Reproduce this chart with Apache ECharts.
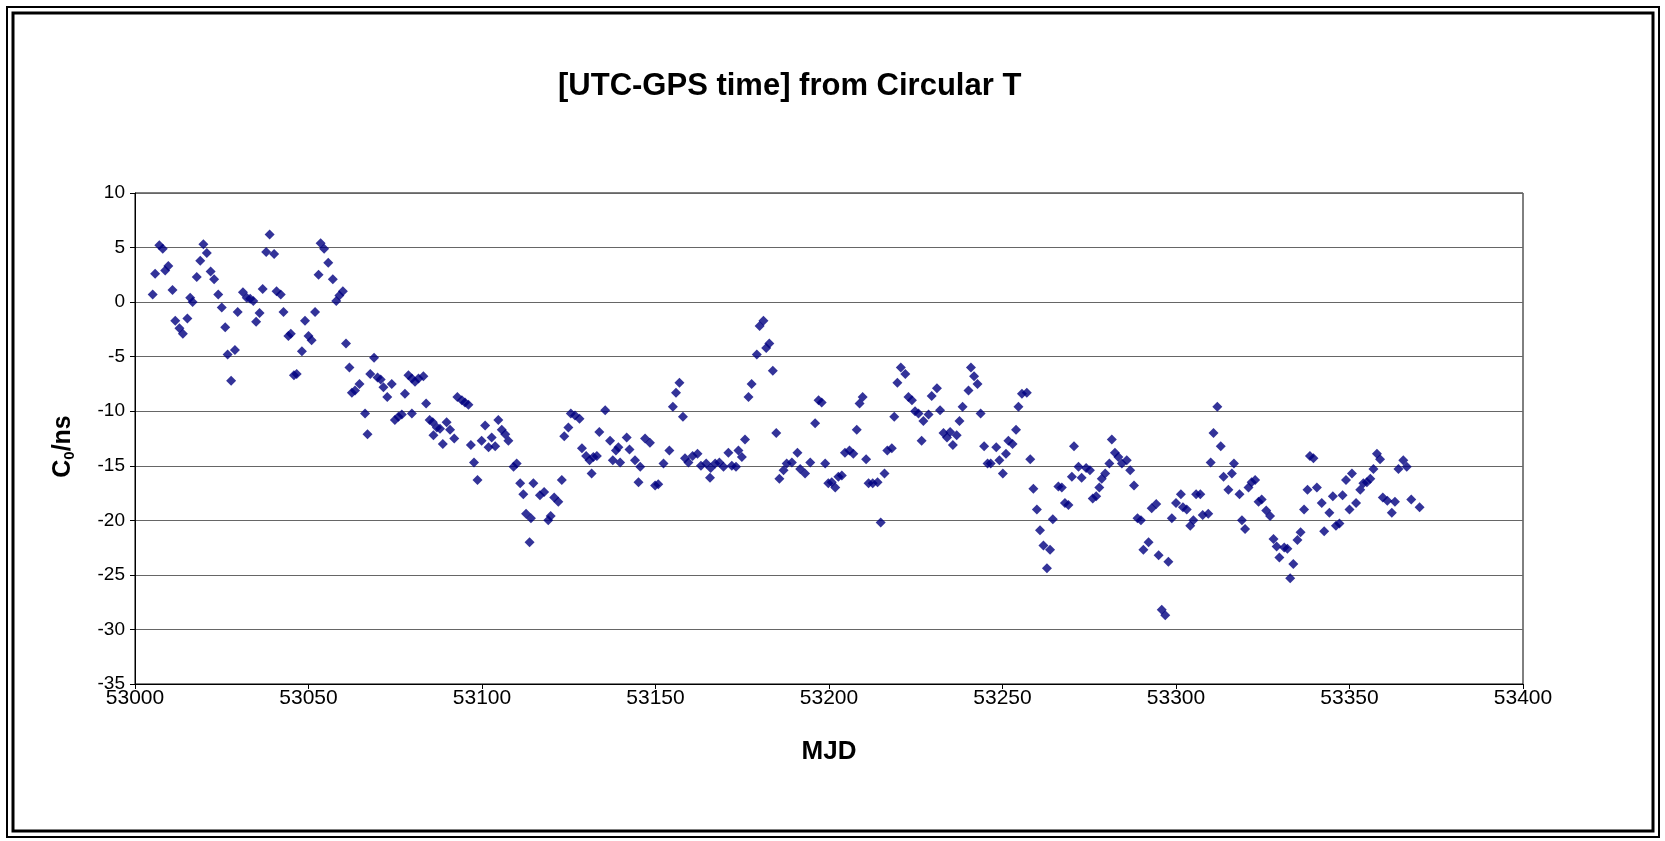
<!DOCTYPE html>
<html>
<head>
<meta charset="utf-8">
<script src="https://cdn.jsdelivr.net/npm/echarts@6/dist/echarts.min.js"></script>
<style>
  html, body { margin: 0; padding: 0; background: #fff; }
  #chart { width: 1665px; height: 841px; }
</style>
</head>
<body>
<div id="chart"></div>
<script>
  // [MJD, C0 (ns)]
  var obs = [
    [53005.1,0.7],[53005.8,2.6],[53007.0,5.2],[53008.0,4.9],[53008.7,2.9],[53009.6,3.3],[53010.8,1.1],[53011.6,-1.7],[53012.8,-2.4],[53013.8,-2.9],
    [53015.1,-1.5],[53015.9,0.4],[53016.6,0.0],[53017.8,2.3],[53018.8,3.8],[53019.7,5.3],[53020.7,4.5],[53021.8,2.8],[53022.8,2.1],[53024.0,0.7],
    [53025.0,-0.5],[53026.0,-2.3],[53026.7,-4.8],[53027.7,-7.2],[53028.8,-4.4],[53029.6,-0.9],[53031.1,0.9],[53032.2,0.4],[53033.2,0.3],[53034.1,0.1],
    [53034.9,-1.8],[53035.9,-1.0],[53036.8,1.2],[53037.8,4.6],[53038.8,6.2],[53040.1,4.4],[53040.8,1.0],[53042.0,0.7],[53042.8,-0.9],[53044.2,-3.1],
    [53044.9,-2.9],[53045.8,-6.7],[53046.6,-6.6],[53048.1,-4.5],[53049.0,-1.7],[53050.0,-3.1],[53050.9,-3.5],[53051.9,-0.9],[53052.9,2.5],[53053.5,5.4],
    [53054.5,4.9],[53055.7,3.6],[53057.0,2.1],[53058.0,0.1],[53058.9,0.6],[53059.9,1.0],[53060.8,-3.8],[53061.8,-6.0],[53062.5,-8.3],[53063.4,-8.1],
    [53064.7,-7.5],[53066.3,-10.2],[53067.0,-12.1],[53067.8,-6.6],[53068.9,-5.1],[53069.9,-6.9],[53070.8,-7.1],[53071.6,-7.8],[53072.7,-8.7],[53074.0,-7.5],
    [53074.9,-10.8],[53075.9,-10.5],[53076.9,-10.3],[53077.8,-8.4],[53078.8,-6.7],[53079.8,-7.0],[53079.8,-10.2],[53080.7,-7.3],[53081.7,-7.0],[53083.1,-6.8],
    [53083.9,-9.3],[53084.9,-10.8],[53085.8,-11.0],[53086.0,-12.2],[53087.0,-11.5],[53087.9,-11.6],[53088.7,-13.0],[53089.8,-11.0],[53090.8,-11.7],[53092.0,-12.5],
    [53092.9,-8.7],[53094.2,-9.0],[53095.1,-9.2],[53096.1,-9.4],[53096.8,-13.1],[53097.7,-14.7],[53098.7,-16.3],[53099.9,-12.7],[53100.9,-11.3],[53101.9,-13.3],
    [53102.8,-12.4],[53103.8,-13.2],[53104.7,-10.8],[53105.7,-11.7],[53106.7,-12.1],[53107.6,-12.7],[53109.1,-15.1],[53110.0,-14.8],[53111.0,-16.6],[53111.9,-17.6],
    [53112.7,-19.4],[53113.7,-22.0],[53114.1,-19.8],[53114.8,-16.6],[53116.7,-17.7],[53117.9,-17.4],[53119.1,-20.0],[53119.8,-19.6],[53120.8,-17.9],[53122.0,-18.3],
    [53123.0,-16.3],[53123.7,-12.3],[53124.9,-11.5],[53125.6,-10.2],[53126.8,-10.4],[53128.1,-10.7],[53128.8,-13.4],[53130.0,-14.1],[53131.0,-14.5],[53131.6,-15.7],
    [53132.1,-14.2],[53133.1,-14.1],[53133.8,-11.9],[53135.5,-9.9],[53136.9,-12.7],[53137.7,-14.5],[53138.6,-13.6],[53139.3,-13.3],[53139.8,-14.7],[53141.7,-12.4],
    [53142.5,-13.5],[53144.1,-14.5],[53145.1,-16.5],[53145.6,-15.1],[53147.0,-12.5],[53148.4,-12.9],[53149.9,-16.8],[53150.8,-16.7],[53152.3,-14.8],[53154.0,-13.6],
    [53155.0,-9.6],[53155.9,-8.3],[53156.9,-7.4],[53157.9,-10.5],[53158.5,-14.3],[53159.5,-14.7],[53160.7,-14.1],[53162.1,-13.9],[53163.1,-15.0],[53164.6,-14.8],
    [53165.7,-16.1],[53165.9,-15.2],[53167.2,-14.8],[53168.4,-14.7],[53169.6,-15.1],[53171.0,-13.8],[53172.0,-15.0],[53173.2,-15.1],[53173.9,-13.6],[53174.9,-14.2],
    [53175.8,-12.6],[53176.8,-8.7],[53177.7,-7.5],[53179.2,-4.8],[53180.0,-2.2],[53181.1,-1.7],[53181.9,-4.2],[53182.8,-3.8],[53183.8,-6.3],[53184.8,-12.0],
    [53185.7,-16.2],[53186.9,-15.4],[53187.8,-14.8],[53189.3,-14.7],[53190.9,-13.8],[53191.7,-15.3],[53193.1,-15.7],[53194.6,-14.7],[53196.0,-11.1],[53197.0,-9.0],
    [53197.9,-9.2],[53198.9,-14.8],[53199.8,-16.6],[53200.8,-16.5],[53201.8,-17.0],[53202.7,-16.0],[53203.7,-15.9],[53204.6,-13.8],[53205.9,-13.6],[53207.0,-13.9],
    [53208.0,-11.7],[53208.8,-9.3],[53209.7,-8.7],[53210.7,-14.4],[53211.4,-16.6],[53212.6,-16.6],[53214.0,-16.5],[53214.9,-20.2],[53216.0,-15.7],[53216.8,-13.6],
    [53218.1,-13.4],[53218.8,-10.5],[53219.7,-7.4],[53220.7,-6.0],[53222.0,-6.6],[53222.9,-8.7],[53223.9,-9.0],[53224.8,-10.0],[53225.8,-10.2],[53226.7,-12.7],
    [53227.2,-10.9],[53228.7,-10.3],[53229.6,-8.6],[53231.1,-7.9],[53232.0,-9.9],[53233.0,-12.0],[53234.0,-12.4],[53234.9,-11.9],[53235.7,-13.1],[53236.8,-12.2],
    [53237.6,-10.9],[53238.5,-9.6],[53240.2,-8.1],[53240.9,-6.0],[53241.8,-6.8],[53242.8,-7.5],[53243.7,-10.2],[53244.7,-13.2],[53245.7,-14.8],[53246.6,-14.8],
    [53248.2,-13.3],[53249.1,-14.5],[53250.1,-15.7],[53251.0,-13.9],[53251.7,-12.7],[53252.9,-13.0],[53253.9,-11.7],[53254.6,-9.6],[53255.6,-8.4],[53257.0,-8.3],
    [53258.0,-14.4],[53258.9,-17.1],[53259.9,-19.0],[53260.8,-20.9],[53261.8,-22.3],[53262.8,-24.4],[53263.7,-22.7],[53264.5,-19.9],[53266.1,-16.9],[53267.1,-17.0],
    [53268.0,-18.4],[53269.0,-18.6],[53270.0,-16.0],[53270.6,-13.2],[53271.9,-15.1],[53272.8,-16.1],[53274.1,-15.2],[53275.2,-15.4],[53276.0,-18.0],[53277.0,-17.8],
    [53277.9,-17.0],[53278.6,-16.2],[53279.6,-15.7],[53280.8,-14.8],[53281.5,-12.6],[53282.4,-13.8],[53283.4,-14.2],[53284.4,-14.8],[53285.8,-14.5],[53286.8,-15.4],
    [53287.9,-16.8],[53288.9,-19.8],[53289.9,-20.0],[53290.6,-22.7],[53292.1,-22.0],[53293.0,-18.9],[53294.3,-18.5],[53295.0,-23.2],[53295.9,-28.2],[53296.9,-28.7],
    [53297.8,-23.8],[53298.8,-19.8],[53300.0,-18.4],[53301.4,-17.6],[53302.0,-18.8],[53303.1,-19.0],[53304.1,-20.5],[53305.0,-20.0],[53305.8,-17.6],[53307.0,-17.6],
    [53307.7,-19.5],[53309.3,-19.4],[53310.0,-14.7],[53310.8,-12.0],[53311.9,-9.6],[53312.9,-13.2],[53313.7,-16.0],[53315.1,-17.2],[53316.1,-15.7],[53316.7,-14.8],
    [53318.3,-17.6],[53319.0,-20.0],[53319.9,-20.8],[53320.9,-17.0],[53321.8,-16.5],[53322.8,-16.3],[53323.8,-18.3],[53324.7,-18.1],[53326.0,-19.1],[53327.1,-19.6],
    [53328.1,-21.7],[53329.0,-22.4],[53329.8,-23.4],[53331.2,-22.5],[53332.1,-22.6],[53332.9,-25.3],[53333.8,-24.0],[53335.0,-21.8],[53335.9,-21.1],[53336.9,-19.0],
    [53337.9,-17.2],[53338.6,-14.1],[53339.6,-14.3],[53340.6,-17.0],[53342.0,-18.4],[53342.7,-21.0],[53344.2,-19.3],[53345.2,-17.8],[53346.1,-20.5],[53347.1,-20.3],
    [53348.0,-17.7],[53349.0,-16.3],[53350.0,-19.0],[53350.7,-15.7],[53351.9,-18.4],[53353.1,-17.2],[53354.0,-16.6],[53355.0,-16.5],[53356.0,-16.2],[53356.9,-15.3],
    [53357.9,-13.9],[53358.8,-14.4],[53359.6,-17.9],[53360.9,-18.2],[53362.2,-19.3],[53363.1,-18.3],[53364.1,-15.3],[53365.5,-14.5],[53366.5,-15.1],[53367.8,-18.1],
    [53370.2,-18.8]
  ];

  var xRange = [53000, 53400];  // MJD, ticks every 50
  var yRange = [-35, 10];       // ns, ticks every 5

  var font = '"Liberation Sans", Arial, sans-serif';
  var W = 1665, H = 841;

  var chart = echarts.init(document.getElementById('chart'), null, {renderer: 'canvas'});
  chart.setOption({
    backgroundColor: '#fff',
    animation: false,
    title: {
      text: '[UTC-GPS time] from Circular T',
      left: 553,
      top: 66,
      textStyle: {fontFamily: font, fontSize: 31, fontWeight: 'bold', color: '#000'}
    },
    grid: {
      left: 135, right: 142, top: 193, bottom: 157,
      show: true, borderColor: '#000', borderWidth: 1
    },
    xAxis: {
      type: 'value',
      min: xRange[0], max: xRange[1], interval: 50,
      name: 'MJD',
      nameLocation: 'middle',
      nameGap: 55,
      nameTextStyle: {fontFamily: font, fontSize: 26, fontWeight: 'bold', color: '#000'},
      axisLine: {onZero: false, lineStyle: {color: '#000', width: 1}},
      axisTick: {show: true, inside: false, length: 5, lineStyle: {color: '#000'}},
      axisLabel: {fontFamily: font, fontSize: 21, color: '#000', margin: 4,
        formatter: function (v) { return String(v); }},
      splitLine: {show: false}
    },
    yAxis: {
      type: 'value',
      min: yRange[0], max: yRange[1], interval: 5,
      name: 'C{sub|0}/ns',
      nameLocation: 'middle',
      nameRotate: 90,
      nameGap: 58,
      nameTextStyle: {
        fontFamily: font, fontSize: 25, fontWeight: 'bold', color: '#000',
        padding: [0, 16, 0, 0],
        rich: {
          sub: {fontFamily: font, fontSize: 15, fontWeight: 'bold', color: '#000', padding: [12, 0, 0, 0]}
        }
      },
      axisLine: {show: true, onZero: false, lineStyle: {color: '#000', width: 1}},
      axisTick: {show: true, inside: false, length: 5, lineStyle: {color: '#000'}},
      axisLabel: {fontFamily: font, fontSize: 19, color: '#000', margin: 10},
      splitLine: {show: true, lineStyle: {color: '#666', width: 1}}
    },
    graphic: [
      {type: 'rect', silent: true, shape: {x: 7, y: 7, width: W - 13, height: H - 11},
        style: {fill: 'none', stroke: '#000', lineWidth: 2}},
      {type: 'rect', silent: true, shape: {x: 13, y: 13, width: W - 25, height: H - 23},
        style: {fill: 'none', stroke: '#000', lineWidth: 3}}
    ],
    series: [{
      type: 'scatter',
      data: obs,
      symbol: 'diamond',
      symbolSize: 10,
      itemStyle: {color: '#000080'}
    }]
  });
</script>
</body>
</html>
